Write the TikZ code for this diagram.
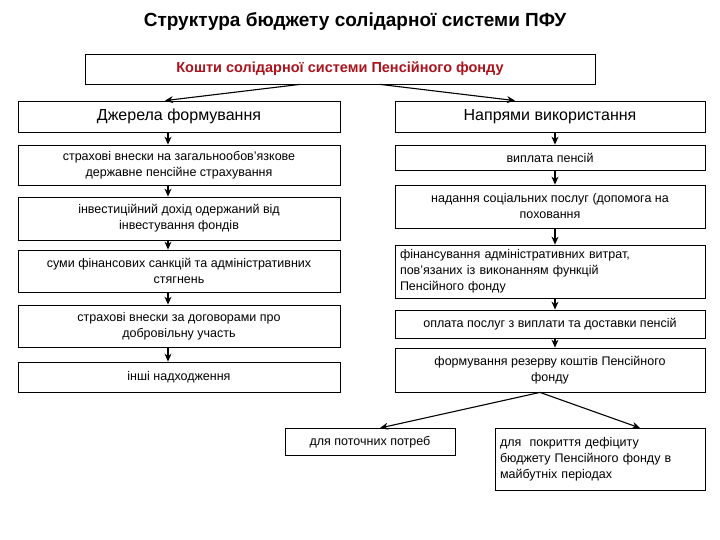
\documentclass[tikz,border=0pt]{standalone}
\usepackage{fontspec}
\setmainfont{Liberation Sans}
\usetikzlibrary{arrows.meta}
\definecolor{titlered}{RGB}{170,20,30}
\begin{document}
\begin{tikzpicture}[x=1pt,y=-1pt,
  bx/.style={draw,line width=0.8pt,fill=white,inner sep=2pt,font=\fontsize{12.5}{16}\selectfont,align=center},
  ar/.style={-{Stealth[length=8pt,width=7pt]},line width=1.1pt}]
\useasboundingbox (0,0) rectangle (720,540);
\node[font=\bfseries\fontsize{19}{21}\selectfont] (t) at (355,22) {Структура бюджету солідарної системи ПФУ};
\node[bx,minimum width=510pt,minimum height=30pt,text=titlered,font=\bfseries\fontsize{14.5}{16}\selectfont] (top) at (340,69) {Кошти солідарної системи Пенсійного фонду};
\node[bx,minimum width=322pt,minimum height=31pt,font=\fontsize{16}{18}\selectfont] (L0) at (179,116.5) {Джерела формування};
\node[bx,minimum width=310pt,minimum height=31pt,font=\fontsize{16}{18}\selectfont] (R0) at (550,116.5) {Напрями використання};
\node[bx,minimum width=322pt,minimum height=40pt] (L1) at (179,165) {страхові внески на загальнообов'язкове\\державне пенсійне страхування};
\node[bx,minimum width=322pt,minimum height=43pt] (L2) at (179,218.5) {інвестиційний дохід одержаний від\\інвестування фондів};
\node[bx,minimum width=322pt,minimum height=42pt] (L3) at (179,271) {суми фінансових санкцій та адміністративних\\стягнень};
\node[bx,minimum width=322pt,minimum height=42pt] (L4) at (179,326) {страхові внески за договорами про\\добровільну участь};
\node[bx,minimum width=322pt,minimum height=30pt] (L5) at (179,377) {інші надходження};
\node[bx,minimum width=310pt,minimum height=25pt] (R1) at (550,157.5) {виплата пенсій};
\node[bx,minimum width=310pt,minimum height=43pt] (R2) at (550,206.5) {надання соціальних послуг (допомога на\\поховання};
\node[bx,minimum width=310pt,minimum height=53pt,align=left,text width=300pt] (R3) at (550,271.5) {фінансування адміністративних витрат,\\пов'язаних із виконанням функцій\\Пенсійного фонду};
\node[bx,minimum width=310pt,minimum height=28pt] (R4) at (550,324) {оплата послуг з виплати та доставки пенсій};
\node[bx,minimum width=310pt,minimum height=44pt] (R5) at (550,370) {формування резерву коштів Пенсійного\\фонду};
\node[bx,minimum width=170pt,minimum height=27pt,anchor=north] (B1) at (370,428) {для поточних потреб};
\node[bx,minimum width=210pt,minimum height=62pt,align=left,text width=200pt,anchor=north] (B2) at (600,428) {для\ \ покриття дефіциту\\бюджету Пенсійного фонду в\\майбутніх періодах};
\draw[ar] ([xshift=-40pt]top.south) -- ([xshift=-14pt]L0.north);
\draw[ar] ([xshift=40pt]top.south) -- ([xshift=-35pt]R0.north);
\foreach \a/\b in {L0/L1,L1/L2,L2/L3,L3/L4,L4/L5}{\draw[ar] ([xshift=-11pt]\a.south) -- ([xshift=-11pt]\b.north);}
\foreach \a/\b in {R0/R1,R1/R2,R2/R3,R3/R4,R4/R5}{\draw[ar] ([xshift=5pt]\a.south) -- ([xshift=5pt]\b.north);}
\draw[ar] ([xshift=-10pt]R5.south) -- ([xshift=10pt]B1.north);
\draw[ar] ([xshift=-10pt]R5.south) -- ([xshift=40pt]B2.north);
\end{tikzpicture}
\end{document}
